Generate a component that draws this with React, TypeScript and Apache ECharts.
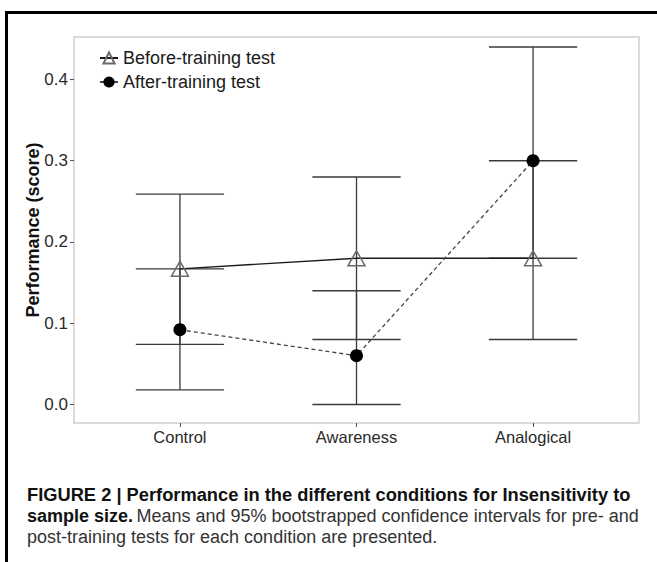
import React, { useEffect, useRef } from "react";
import * as echarts from "echarts";

const categories = ["Control", "Awareness", "Analogical"];
const beforeMean = [0.167, 0.18, 0.18];
const beforeLow = [0.074, 0.08, 0.08];
const beforeHigh = [0.259, 0.28, 0.3];
const afterMean = [0.092, 0.06, 0.3];
const afterLow = [0.018, 0.0, 0.18];
const afterHigh = [0.167, 0.14, 0.44];
const yTicks = [0, 0.1, 0.2, 0.3, 0.4];
const xTicks = [1, 2, 3];

const FONT = "'Liberation Sans', Arial, Helvetica, sans-serif";

export default function App() {
  const ref = useRef<HTMLDivElement>(null);
  useEffect(() => {
    if (!ref.current) return;
    const chart = echarts.init(ref.current, undefined, { renderer: "svg" });
    const errRender = (params: any, api: any) => {
      const x = api.value(0);
      const lo = api.value(1);
      const hi = api.value(2);
      const pLo = api.coord([x, lo]);
      const pHi = api.coord([x, hi]);
      const hw = api.size([0.5, 0])[0] / 2;
      const st = { stroke: "#3a3a3a", lineWidth: 1.3 };
      return {
        type: "group",
        children: [
          { type: "line", shape: { x1: pLo[0], y1: pLo[1], x2: pHi[0], y2: pHi[1] }, style: st },
          { type: "line", shape: { x1: pLo[0] - hw, y1: pLo[1], x2: pLo[0] + hw, y2: pLo[1] }, style: st },
          { type: "line", shape: { x1: pHi[0] - hw, y1: pHi[1], x2: pHi[0] + hw, y2: pHi[1] }, style: st },
        ],
      };
    };
    const option: any = {
      animation: false,
      backgroundColor: "#fff",
      textStyle: { fontFamily: FONT },
      grid: {
        left: 74,
        right: 18,
        top: 37,
        bottom: 139,
        show: true,
        borderColor: "#cfcfcf",
        borderWidth: 1.5,
        backgroundColor: "transparent",
      },
      legend: {
        orient: "vertical",
        left: 99,
        top: 48,
        padding: 0,
        itemWidth: 18,
        itemHeight: 14,
        itemGap: 4,
        data: ["Before-training test", "After-training test"],
        textStyle: { fontSize: 18, color: "#1a1a1a", fontFamily: FONT, lineHeight: 20 },
      },
      xAxis: {
        type: "value",
        min: 0.4,
        max: 3.6,
        axisLine: { show: false, onZero: false },
        splitLine: { show: false },
        axisTick: { show: true, customValues: xTicks, length: 4, lineStyle: { color: "#555" } },
        axisLabel: {
          customValues: xTicks,
          margin: 5,
          fontSize: 16.5,
          color: "#2a2a2a",
          fontFamily: FONT,
          formatter: (v: number) => categories[Math.round(v) - 1] || "",
        },
      },
      yAxis: {
        type: "value",
        min: -0.0228,
        max: 0.4523,
        name: "Performance (score)",
        nameLocation: "middle",
        nameGap: 32,
        nameMoveOverlap: false,
        nameTextStyle: { fontSize: 18, fontWeight: "bold", color: "#111", fontFamily: FONT },
        axisLine: { show: false, onZero: false },
        splitLine: { show: false },
        axisTick: { show: true, customValues: yTicks, length: 4, lineStyle: { color: "#555" } },
        axisLabel: {
          customValues: yTicks,
          margin: 6,
          fontSize: 17,
          color: "#2a2a2a",
          fontFamily: FONT,
          formatter: (v: number) => v.toFixed(1),
        },
      },
      graphic: [
        { type: "line", shape: { x1: 6.5, y1: 12.5, x2: 6.5, y2: 562 }, style: { stroke: "#000", lineWidth: 3 } },
        { type: "line", shape: { x1: 5, y1: 12.5, x2: 657, y2: 12.5 }, style: { stroke: "#000", lineWidth: 3 } },
        {
          type: "text",
          left: 27,
          top: 485,
          style: {
            text: "FIGURE 2 | Performance in the different conditions for Insensitivity to",
            font: `bold 18.3px ${FONT}`,
            fill: "#111",
          },
        },
        {
          type: "text",
          left: 27,
          top: 507,
          style: {
            text: "{b|sample size.} {r|Means and 95% bootstrapped confidence intervals for pre- and}",
            rich: {
              b: { font: `bold 18px ${FONT}`, fill: "#111" },
              r: { font: `18px ${FONT}`, fill: "#333" },
            },
          },
        },
        {
          type: "text",
          left: 27,
          top: 528,
          style: {
            text: "post-training tests for each condition are presented.",
            font: `18px ${FONT}`,
            fill: "#333",
          },
        },
      ],
      series: [
        {
          type: "custom",
          name: "beforeCI",
          renderItem: errRender,
          encode: { x: 0, y: [1, 2] },
          data: categories.map((c, i) => [i + 1, beforeLow[i], beforeHigh[i]]),
          z: 1,
        },
        {
          type: "custom",
          name: "afterCI",
          renderItem: errRender,
          encode: { x: 0, y: [1, 2] },
          data: categories.map((c, i) => [i + 1, afterLow[i], afterHigh[i]]),
          z: 1,
        },
        {
          type: "line",
          name: "Before-training test",
          data: categories.map((c, i) => [i + 1, beforeMean[i]]),
          symbol: "triangle",
          symbolSize: [17, 15],
          lineStyle: { color: "#1a1a1a", width: 1.3 },
          itemStyle: { color: "rgba(0,0,0,0)", borderColor: "#6a6a6a", borderWidth: 1.5 },
          z: 3,
        },
        {
          type: "line",
          name: "After-training test",
          data: categories.map((c, i) => [i + 1, afterMean[i]]),
          symbol: "circle",
          symbolSize: 13,
          lineStyle: { color: "#444", width: 1.3, type: [4, 3] },
          itemStyle: { color: "#000", borderColor: "#000", borderWidth: 0 },
          z: 4,
        },
      ],
    };
    chart.setOption(option);
    return () => chart.dispose();
  }, []);
  return (
    <div
      ref={ref}
      style={{ position: "fixed", left: 0, top: 0, width: 657, height: 562 }}
    />
  );
}
